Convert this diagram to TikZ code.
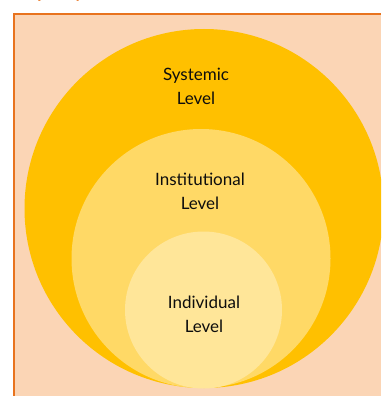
\documentclass[tikz,border=0pt]{standalone}
\usepackage{fontspec}
\setmainfont{Lato}
\definecolor{panel}{HTML}{FBD5B5}
\definecolor{frame}{HTML}{E8731E}
\definecolor{sysfill}{HTML}{FFC000}
\definecolor{instfill}{HTML}{FFD966}
\definecolor{indfill}{HTML}{FFE699}
\begin{document}
\begin{tikzpicture}[x=1pt,y=-1pt,
  levellabel/.style={align=center,font=\fontsize{17}{24}\selectfont,text=black!95}]
\useasboundingbox (0,0) rectangle (381,396);
\begin{scope}
  \clip (0,0) rectangle (381,396);
  % heading above the panel, cut off by the page edge
  \node[anchor=base west,text=frame,font=\fontsize{17}{20}\bfseries\selectfont] (title) at (14,-1) {Capacity};
  % panel
  \fill[panel] (14,14) rectangle (381,396);
  \draw[frame,line width=2.5pt] (14,396) -- (14,14) -- (381,14);
  % nested levels
  \fill[sysfill] (204,208.5) circle[radius=179.5];
  \fill[instfill] (201,258.5) circle[radius=129.5];
  \fill[indfill] (203.5,310) circle[radius=78.5];
\end{scope}
\node[levellabel] (sys) at (196,86) {Systemic\\Level};
\node[levellabel] (inst) at (200,191) {Institutional\\Level};
\node[levellabel] (ind) at (204,314) {Individual\\Level};
\end{tikzpicture}
\end{document}
